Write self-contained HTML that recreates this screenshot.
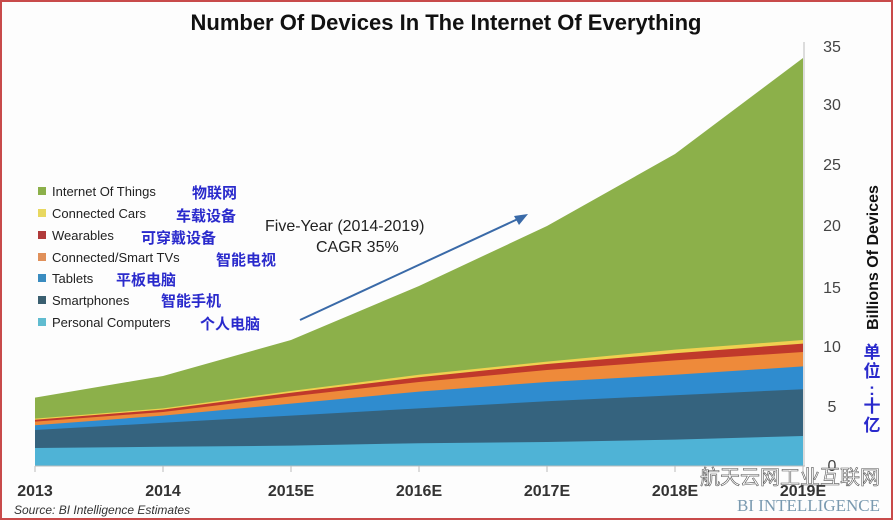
<!DOCTYPE html>
<html><head><meta charset="utf-8"><style>
body{margin:0;background:#fff;}
svg{display:block;}
</style></head><body>
<svg width="893" height="520" viewBox="0 0 893 520" xmlns="http://www.w3.org/2000/svg" font-family="Liberation Sans, DejaVu Sans, sans-serif">
<rect x="0" y="0" width="893" height="520" fill="#fdfdfd"/>
<rect x="1" y="1" width="891" height="518" fill="none" stroke="#c84a4a" stroke-width="2"/>
<text x="446" y="30" text-anchor="middle" font-size="22" font-weight="bold" fill="#111">Number Of Devices In The Internet Of Everything</text>
<!-- areas -->
<polygon fill="#8cb04a" points="35,466 35,397.6 163,376 291,340 419,286 547,226 675,154 803,58 803,466"/>
<polygon fill="#f0d050" points="35,466 35,418.6 163,408.4 291,391 419,374.8 547,361.6 675,349.6 803,340 803,466"/>
<polygon fill="#c0392b" points="35,466 35,419.8 163,409.6 291,392.8 419,377.2 547,364 675,353.2 803,343.6 803,466"/>
<polygon fill="#ee8a3a" points="35,466 35,421.6 163,412 291,396.4 419,382 547,370 675,360.4 803,352 803,466"/>
<polygon fill="#2f8ccf" points="35,466 35,425.2 163,415.6 291,403.6 419,391.6 547,382 675,374.8 803,366.4 803,466"/>
<polygon fill="#35637e" points="35,466 35,430 163,422.8 291,415.6 419,408.4 547,401.2 675,395.2 803,389.2 803,466"/>
<polygon fill="#4fb3d6" points="35,466 35,448 163,446.8 291,445.6 419,443.2 547,442 675,439.6 803,436 803,466"/>
<!-- axes -->
<line x1="35" y1="466" x2="805" y2="466" stroke="#bbb" stroke-width="1"/>
<line x1="804" y1="42" x2="804" y2="466" stroke="#bbb" stroke-width="1"/>
<g stroke="#bbb">
<line x1="35" y1="466" x2="35" y2="472"/><line x1="163" y1="466" x2="163" y2="472"/><line x1="291" y1="466" x2="291" y2="472"/><line x1="419" y1="466" x2="419" y2="472"/><line x1="547" y1="466" x2="547" y2="472"/><line x1="675" y1="466" x2="675" y2="472"/><line x1="803" y1="466" x2="803" y2="472"/>
</g>
<g font-size="16" fill="#333" font-weight="bold" text-anchor="middle">
<text x="35" y="496">2013</text><text x="163" y="496">2014</text><text x="291" y="496">2015E</text><text x="419" y="496">2016E</text><text x="547" y="496">2017E</text><text x="675" y="496">2018E</text><text x="803" y="496">2019E</text>
</g>
<g font-size="16" fill="#444" text-anchor="middle">
<text x="832" y="52">35</text><text x="832" y="110">30</text><text x="832" y="170">25</text><text x="832" y="231">20</text><text x="832" y="293">15</text><text x="832" y="352">10</text><text x="832" y="412">5</text><text x="832" y="471">0</text>
</g>
<text transform="translate(878,330) rotate(-90)" font-size="16" font-weight="bold" fill="#111">Billions Of Devices</text>
<g font-family="Liberation Sans, Noto Sans CJK SC, sans-serif" font-size="17" font-weight="bold" fill="#2a2acc" text-anchor="middle">
<text x="872" y="358">单</text><text x="872" y="377">位</text><text x="872" y="395">:</text><text x="872" y="412">十</text><text x="872" y="431">亿</text>
</g>
<!-- legend -->
<g font-size="13" fill="#222">
<rect x="38" y="187" width="8" height="8" fill="#8cb04a"/><text x="52" y="196">Internet Of Things</text>
<rect x="38" y="209" width="8" height="8" fill="#e8d860"/><text x="52" y="218">Connected Cars</text>
<rect x="38" y="231" width="8" height="8" fill="#b03a3a"/><text x="52" y="240">Wearables</text>
<rect x="38" y="253" width="8" height="8" fill="#e0905a"/><text x="52" y="262">Connected/Smart TVs</text>
<rect x="38" y="274" width="8" height="8" fill="#3a8cc0"/><text x="52" y="283">Tablets</text>
<rect x="38" y="296" width="8" height="8" fill="#3a5f70"/><text x="52" y="305">Smartphones</text>
<rect x="38" y="318" width="8" height="8" fill="#60bcd0"/><text x="52" y="327">Personal Computers</text>
</g>
<g font-family="Liberation Sans, Noto Sans CJK SC, sans-serif" font-size="15" font-weight="bold" fill="#2a2acc">
<text x="192" y="198">物联网</text>
<text x="176" y="221">车载设备</text>
<text x="141" y="243">可穿戴设备</text>
<text x="216" y="265">智能电视</text>
<text x="116" y="285">平板电脑</text>
<text x="161" y="306">智能手机</text>
<text x="200" y="329">个人电脑</text>
</g>
<text x="265" y="231" font-size="16" fill="#222">Five-Year (2014-2019)</text>
<text x="316" y="252" font-size="16" fill="#222">CAGR 35%</text>
<line x1="300" y1="320" x2="520" y2="218" stroke="#3a6aa8" stroke-width="2"/>
<polygon points="528,214 514,216 519,225" fill="#3a6aa8"/>
<text x="14" y="514" font-size="12" font-style="italic" fill="#333">Source: BI Intelligence Estimates</text>
<text x="880" y="511" text-anchor="end" font-family="Liberation Serif, serif" font-size="17" fill="#7a9ab0">BI INTELLIGENCE</text>
<text x="880" y="484" text-anchor="end" font-family="Liberation Sans, Noto Sans CJK SC, sans-serif" font-size="20" fill="#fff" stroke="#555" stroke-width="0.6">航天云网工业互联网</text>
</svg>
</body></html>
